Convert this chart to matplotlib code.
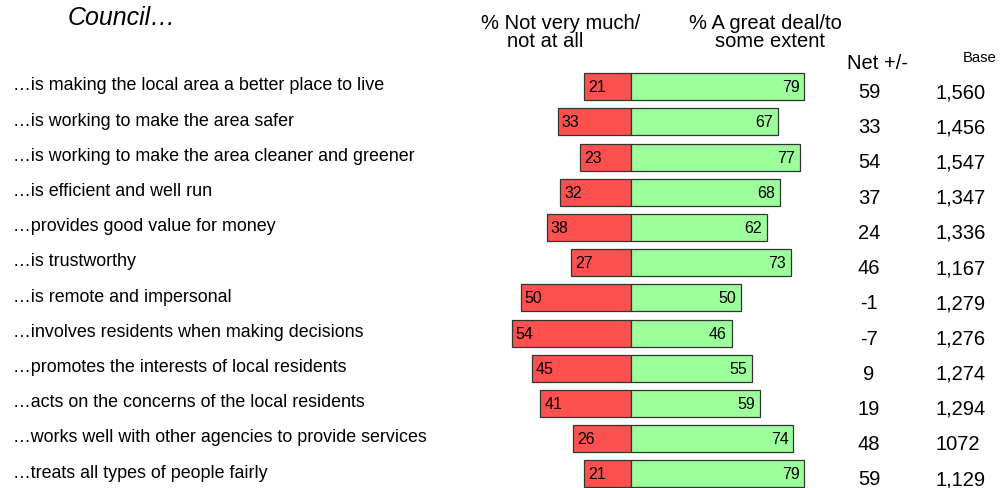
import matplotlib
matplotlib.use("Agg")
import matplotlib.pyplot as plt

plt.rcParams["font.family"] = ["Liberation Sans", "DejaVu Sans"]

statements = [
    "\u2026is making the local area a better place to live",
    "\u2026is working to make the area safer",
    "\u2026is working to make the area cleaner and greener",
    "\u2026is efficient and well run",
    "\u2026provides good value for money",
    "\u2026is trustworthy",
    "\u2026is remote and impersonal",
    "\u2026involves residents when making decisions",
    "\u2026promotes the interests of local residents",
    "\u2026acts on the concerns of the local residents",
    "\u2026works well with other agencies to provide services",
    "\u2026treats all types of people fairly",
]
not_much = [21, 33, 23, 32, 38, 27, 50, 54, 45, 41, 26, 21]
great_deal = [79, 67, 77, 68, 62, 73, 50, 46, 55, 59, 74, 79]
net = ["59", "33", "54", "37", "24", "46", "-1", "-7", "9", "19", "48", "59"]
base = ["1,560", "1,456", "1,547", "1,347", "1,336", "1,167",
        "1,279", "1,276", "1,274", "1,294", "1072", "1,129"]

RED = "#ff5050"
GREEN = "#9cff9c"
EDGE = "#333333"

fig = plt.figure(figsize=(10.05, 4.89), dpi=100, facecolor="white")
ax = fig.add_axes([0, 0, 1, 1])
ax.set_xlim(-286.6, 170.2)
ax.set_ylim(11.40, -2.49)
ax.axis("off")

rows = range(len(statements))
ax.barh(rows, [-v for v in not_much], height=0.77, color=RED,
        edgecolor=EDGE, linewidth=0.9)
ax.barh(rows, great_deal, height=0.77, color=GREEN,
        edgecolor=EDGE, linewidth=0.9)

for i in rows:
    ax.text(-280.7, i - 0.05, statements[i], fontsize=12.9, ha="left", va="center")
    ax.text(-not_much[i] + 1.8, i, str(not_much[i]), fontsize=11.5,
            ha="left", va="center")
    ax.text(great_deal[i] - 2.2, i, str(great_deal[i]), fontsize=11.5,
            ha="right", va="center")
    ax.text(108.4, i + 0.14, net[i], fontsize=14.5, ha="center", va="center")
    ax.text(138.4, i + 0.14, base[i], fontsize=14.5, ha="left", va="center")

# column headers
ax.text(-31.6, -1.83, "% Not very much/", fontsize=14.5, ha="center", va="center")
ax.text(-38.9, -1.32, "not at all", fontsize=14.5, ha="center", va="center")
ax.text(61.1, -1.83, "% A great deal/to", fontsize=14.5, ha="center", va="center")
ax.text(63.4, -1.32, "some extent", fontsize=14.5, ha="center", va="center")
ax.text(112.3, -0.68, "Net +/-", fontsize=14.5, ha="center", va="center")
ax.text(158.8, -0.85, "Base", fontsize=10.7, ha="center", va="center")
ax.text(-255.7, -1.97, "Council\u2026", fontsize=18, style="italic",
        ha="left", va="center")

fig.savefig("out.png", dpi=100, facecolor="white")
